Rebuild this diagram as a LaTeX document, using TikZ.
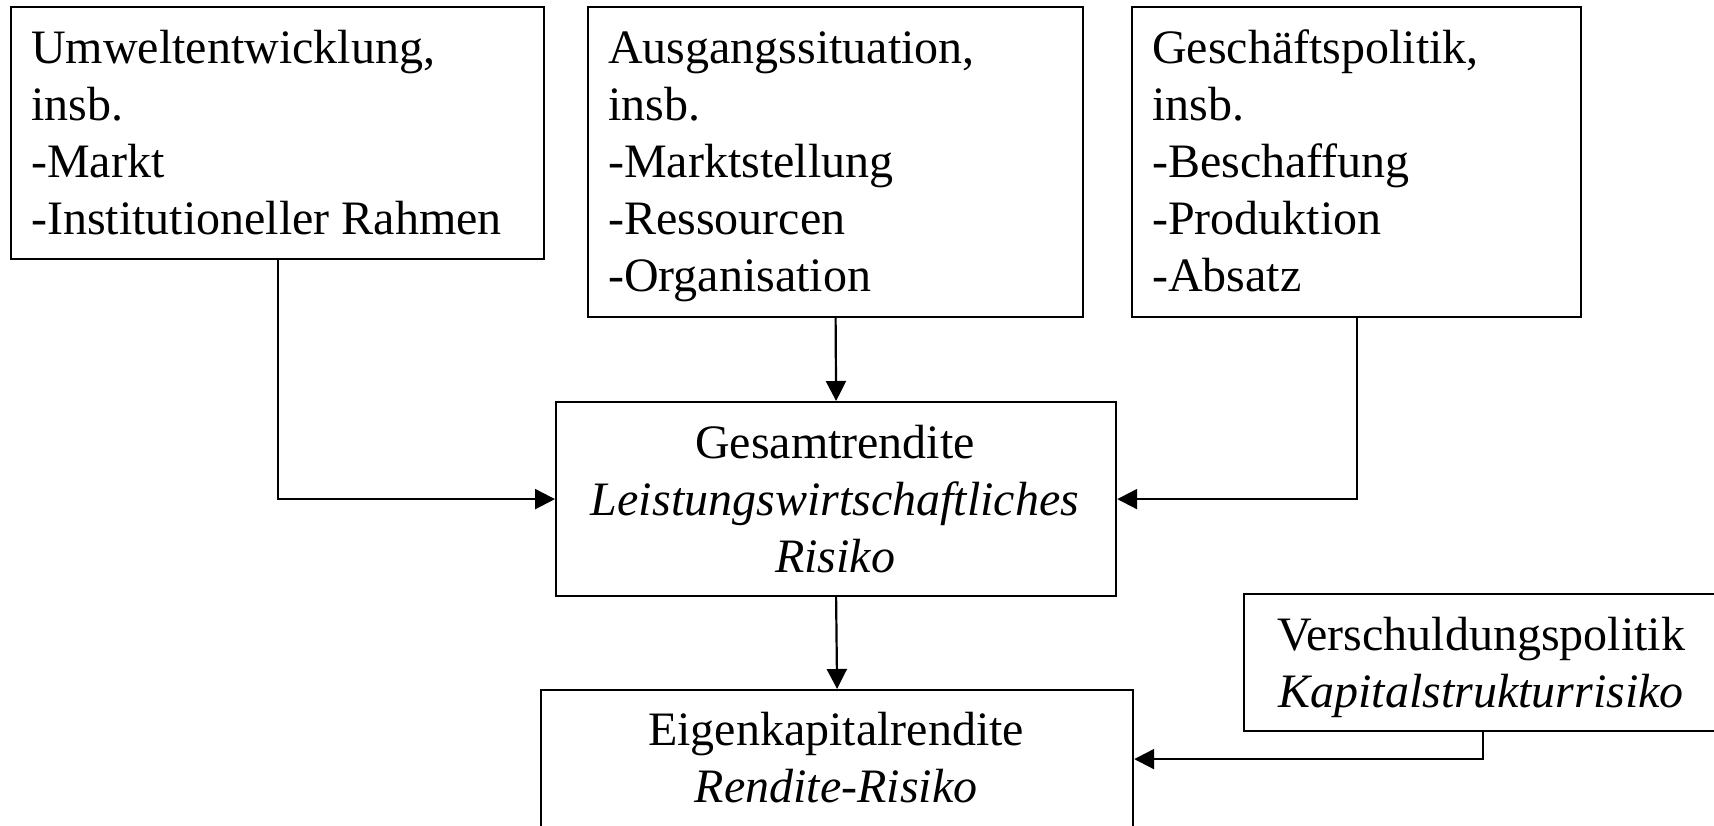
\documentclass[tikz,border=0pt]{standalone}
\usepackage{fontspec}
\setmainfont{Liberation Serif}
\usetikzlibrary{arrows.meta}

\begin{document}
\begin{tikzpicture}[x=1pt, y=-1pt,
    box/.style={draw, line width=2.2pt, rectangle, inner sep=0pt, anchor=north west},
    txt/.style={inner sep=0pt, font=\fontsize{48}{57}\selectfont},
    arr/.style={line width=2.2pt, -{Triangle[length=20pt, width=20pt]}}]
  \useasboundingbox (0,0) rectangle (1714,825);

  % frames
  \node[box, minimum width=533pt, minimum height=252pt] (umwelt)    at (10,6)    {};
  \node[box, minimum width=495pt, minimum height=310pt] (ausgang)   at (587,6)   {};
  \node[box, minimum width=449pt, minimum height=310pt] (geschaeft) at (1131,6)  {};
  \node[box, minimum width=560pt, minimum height=194pt] (gesamt)    at (555,401) {};
  \node[box, minimum width=592pt, minimum height=138pt] (eigen)     at (540,689) {};
  \node[box, minimum width=477pt, minimum height=137pt] (verschuld) at (1243,593) {};

  % texts of the upper row (left aligned)
  \node[txt, anchor=base west] (umwelttext) at (31,63)
    {\parbox[t]{500pt}{\raggedright Umweltentwicklung,\\insb.\\-Markt\\-Institutioneller Rahmen}};
  \node[txt, anchor=base west] (ausgangtext) at (608,63)
    {\parbox[t]{460pt}{\raggedright Ausgangssituation,\\insb.\\-Marktstellung\\-Ressourcen\\-Organisation}};
  \node[txt, anchor=base west] (geschaefttext) at (1152,63)
    {\parbox[t]{420pt}{\raggedright Geschäftspolitik,\\insb.\\-Beschaffung\\-Produktion\\-Absatz}};

  % centred texts
  \node[txt, anchor=base] (gesamttext) at (835,458)
    {\parbox[t]{540pt}{\centering Gesamtrendite\\\textit{Leistungswirtschaftliches}\\\textit{Risiko}}};
  \node[txt, anchor=base] (eigentext) at (836,745)
    {\parbox[t]{560pt}{\centering Eigenkapitalrendite\\\textit{Rendite-Risiko}}};
  \node[txt, anchor=base] (verschuldtext) at (1481,650)
    {\parbox[t]{470pt}{\centering Verschuldungspolitik\\\textit{Kapitalstrukturrisiko}}};

  % connectors
  \draw[arr] (umwelt.south) |- (gesamt.west);
  \draw[arr] (ausgang.south) -- (gesamt.north);
  \draw[arr] (geschaeft.south) |- (gesamt.east);
  \draw[arr] (gesamt.south) -- (eigen.north);
  \draw[arr] (verschuld.south) |- (eigen.east);
\end{tikzpicture}
\end{document}
